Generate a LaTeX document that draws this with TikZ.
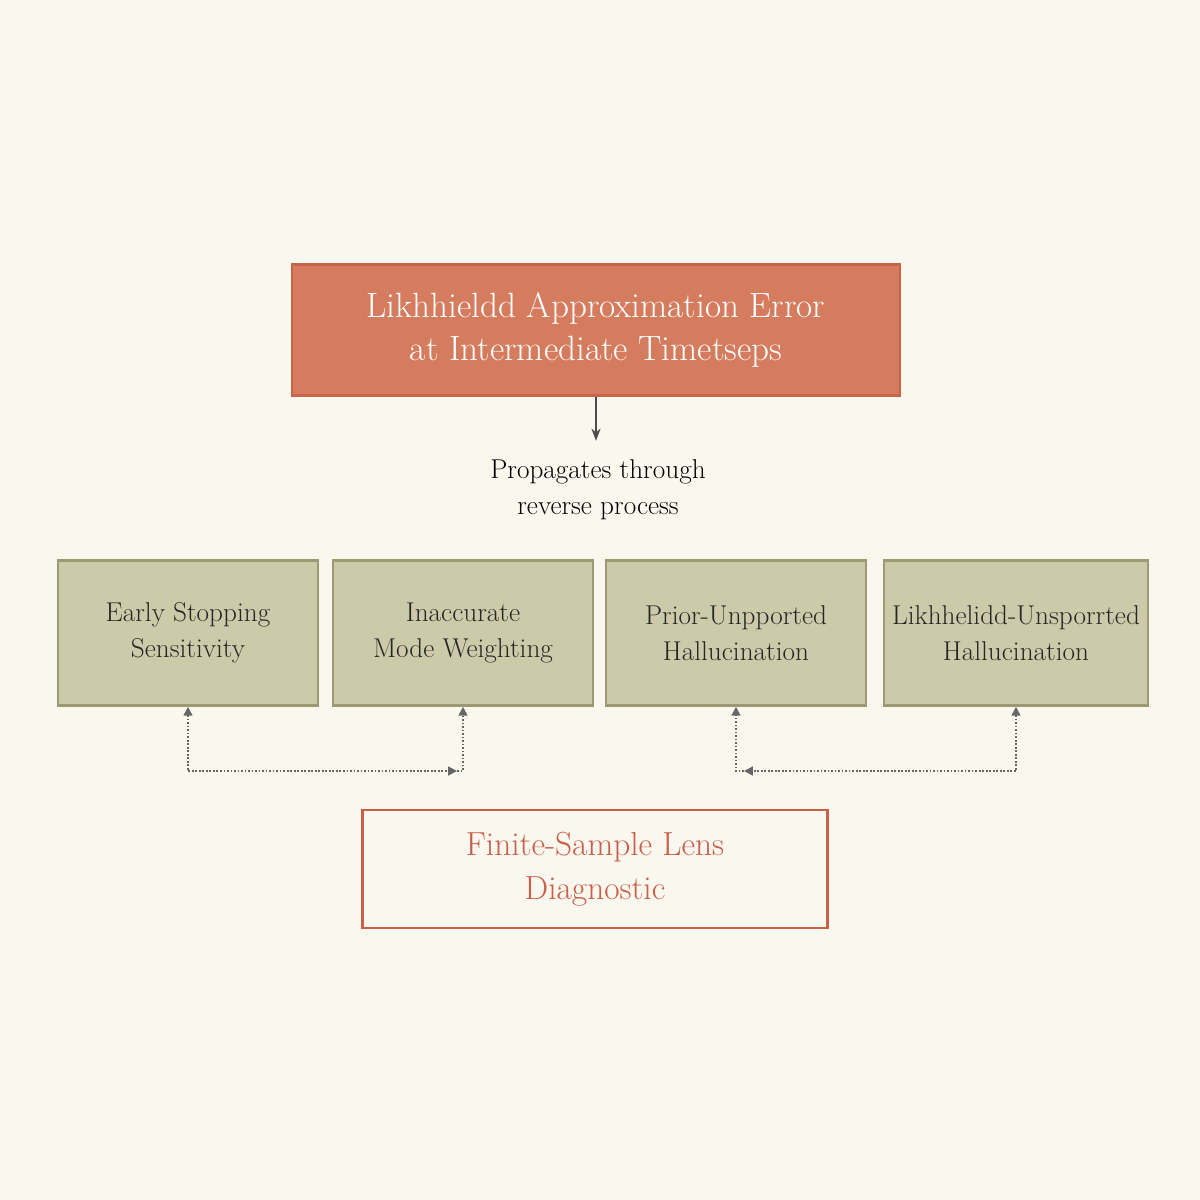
\documentclass[tikz,border=0pt]{standalone}
\usepackage{tikz}
\usetikzlibrary{positioning,calc,arrows.meta}
\definecolor{bgc}{HTML}{FAF7EE}
\definecolor{errfill}{HTML}{D57C5E}
\definecolor{errline}{HTML}{C8644A}
\definecolor{effill}{HTML}{CDCAAA}
\definecolor{efline}{HTML}{9C9A72}
\definecolor{lensc}{HTML}{C9604A}
\tikzset{
  err/.style={rectangle, minimum width=12.16cm, minimum height=2.62cm, text centered, align=center, draw=errline, line width=1.5pt, fill=errfill, text=white, font=\fontsize{20}{25}\selectfont},
  eff/.style={rectangle, minimum width=5.2cm, minimum height=2.9cm, text centered, align=center, draw=efline, line width=1.5pt, fill=effill, text=black!85, font=\fontsize{15.5}{20.5}\selectfont},
  lens/.style={rectangle, minimum width=9.3cm, minimum height=2.36cm, text centered, align=center, draw=lensc, line width=1.5pt, fill=bgc, text=lensc, font=\fontsize{19}{25}\selectfont},
  dl/.style={densely dotted, line width=1pt, draw=black!60, -{Triangle[length=5pt,width=5pt]}}
}
\begin{document}
\begin{tikzpicture}[x=0.02cm,y=-0.02cm]
	\fill[bgc] (0,0) rectangle (1200,1200);
	\useasboundingbox (0,0) rectangle (1200,1200);
	\node[err] (err) at (596,330) {Likhhieldd Approximation Error\\at Intermediate Timetseps};
	\node[align=center, font=\fontsize{15.5}{20.5}\selectfont] (prop) at (598,490) {Propagates through\\reverse process};
	\node[eff] (e1) at (188,633) {Early Stopping\\Sensitivity};
	\node[eff] (e2) at (463,633) {Inaccurate\\Mode Weighting};
	\node[eff] (e3) at (736,633) {Prior-Unpported\\Hallucination};
	\node[eff, minimum width=5.28cm] (e4) at (1016,633) {Likhhelidd-Unsporrted\\Hallucination};
	\node[lens] (lens) at (595,869) {Finite-Sample Lens\\Diagnostic};
	%
	\draw[-{Stealth[length=7pt]}, line width=1pt, black!70] (err.south) -- ++(0,44) coordinate (arr);
	\coordinate (k1) at ($(e2.south |- 0,771)+(-6,0)$);
	\coordinate (k2) at ($(e3.south |- 0,771)+(8,0)$);
	\draw[dl, {Triangle[length=5pt,width=5pt]}-{Triangle[length=5pt,width=5pt]}] (e1.south) |- (k1);
	\draw[dl] (k1) -| (e2.south);
	\draw[dl, {Triangle[length=5pt,width=5pt]}-{Triangle[length=5pt,width=5pt]}] (e4.south) |- (k2);
	\draw[dl] (k2) -| (e3.south);
\end{tikzpicture}
\end{document}
